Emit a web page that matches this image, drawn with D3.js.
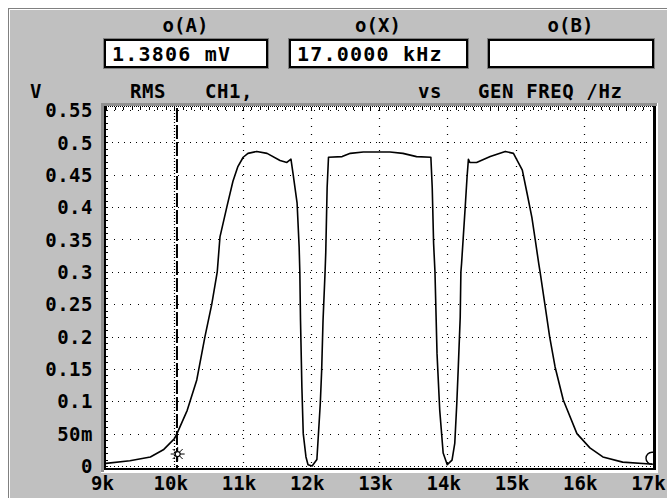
<!DOCTYPE html>
<html>
<head>
<meta charset="utf-8">
<script src="https://cdn.jsdelivr.net/npm/d3@7"></script>
<style>
  body { margin: 0; background: #fff; }
  svg { display: block; }
  text { font-family: "DejaVu Sans Mono", monospace; font-weight: bold; fill: #000; }
</style>
</head>
<body>
<div class="chart"></div>
<script>
const WIDTH = 667;
const HEIGHT = 498;

// sweep: generator frequency (kHz) vs RMS volts on CH1
const freqs = [9.0, 9.35, 9.65, 9.84, 10.0, 10.04, 10.19, 10.33, 10.45, 10.55, 10.63, 10.67, 10.77, 10.86, 10.93,
  11.01, 11.08, 11.21, 11.36, 11.55, 11.65, 11.71, 11.74, 11.80, 11.83, 11.84, 11.85, 11.87, 11.89, 11.93, 11.96,
  12.02, 12.09, 12.14, 12.16, 12.18, 12.21, 12.22, 12.24, 12.26, 12.46, 12.58, 12.77, 13.16, 13.35, 13.55, 13.76,
  13.78, 13.80, 13.82, 13.85, 13.89, 13.94, 14.0, 14.07, 14.11, 14.14, 14.16, 14.19, 14.20, 14.21, 14.26, 14.29,
  14.31, 14.33, 14.43, 14.63, 14.85, 14.97, 15.04, 15.10, 15.17, 15.24, 15.29, 15.34, 15.36, 15.43, 15.50, 15.58,
  15.70, 15.90, 16.09, 16.28, 16.57, 16.97, 17.0];
const volts = [0.004, 0.008, 0.014, 0.025, 0.042, 0.05, 0.086, 0.133, 0.2, 0.25, 0.30, 0.354, 0.40, 0.44, 0.462,
  0.477, 0.483, 0.486, 0.483, 0.472, 0.469, 0.474, 0.452, 0.406, 0.338, 0.30, 0.225, 0.122, 0.05, 0.014, 0.002,
  0.0, 0.01, 0.097, 0.148, 0.225, 0.30, 0.33, 0.43, 0.477, 0.478, 0.483, 0.485, 0.485, 0.483, 0.478, 0.477,
  0.43, 0.344, 0.30, 0.174, 0.086, 0.02, 0.002, 0.009, 0.035, 0.097, 0.148, 0.23, 0.30, 0.313, 0.395, 0.446,
  0.474, 0.469, 0.469, 0.478, 0.486, 0.483, 0.469, 0.457, 0.421, 0.384, 0.349, 0.313, 0.30, 0.25, 0.20, 0.153,
  0.102, 0.05, 0.028, 0.014, 0.006, 0.003, 0.003];

const xTicks = [9, 10, 11, 12, 13, 14, 15, 16, 17];
const xTickLabels = ['9k', '10k', '11k', '12k', '13k', '14k', '15k', '16k', '17k'];
const yTicks = [0, 0.05, 0.1, 0.15, 0.2, 0.25, 0.3, 0.35, 0.4, 0.45, 0.5, 0.55];
const yTickLabels = ['0', '50m', '0.1', '0.15', '0.2', '0.25', '0.3', '0.35', '0.4', '0.45', '0.5', '0.55'];

const readoutTitles = ['o(A)', 'o(X)', 'o(B)'];
const readoutValues = ['1.3806 mV', '17.0000 kHz', ''];

const cursorFreq = 10.04;
const markerA = [10.05, 0.0185];
const markerB = [17.0, 0.012];

var translate = function (x, y) {
  return 'translate(' + x + ',' + y + ')';
};

var xScale = d3.scaleLinear().domain([9, 17]).range([106, 652]);
var yScale = d3.scaleLinear().domain([0, 0.55]).range([466, 110]);

var svg = d3.select('.chart').append('svg')
  .attr('width', WIDTH)
  .attr('height', HEIGHT);

// panel with a sunken 3d edge
svg.append('rect').attr('x', 8.5).attr('y', 8.5).attr('width', WIDTH).attr('height', HEIGHT)
  .attr('fill', '#c0c0c0').attr('stroke', '#808080');
svg.append('path').attr('d', 'M9.5,' + HEIGHT + 'V9.5H' + WIDTH)
  .attr('fill', 'none').attr('stroke', '#fff');

// readout boxes
var boxes = [[103, 268], [288, 468], [487, 654]];
boxes.forEach(function (b, i) {
  svg.append('text').attr('x', (b[0] + b[1]) / 2).attr('y', 25)
    .attr('text-anchor', 'middle').attr('dominant-baseline', 'central')
    .style('font-size', '19px').text(readoutTitles[i]);
  svg.append('rect').attr('x', b[0] + 0.5).attr('y', 38.5).attr('width', b[1] - b[0]).attr('height', 30)
    .attr('fill', 'none').attr('stroke', '#808080');
  svg.append('rect').attr('x', b[0] + 2).attr('y', 40).attr('width', b[1] - b[0] - 3).attr('height', 27)
    .attr('fill', '#fff').attr('stroke', '#000').attr('stroke-width', 2);
  svg.append('text').attr('x', b[0] + 9).attr('y', 54)
    .attr('dominant-baseline', 'central')
    .style('font-size', '20px').style('letter-spacing', '1.2px').text(readoutValues[i]);
});

// caption row
var caption = [['V', 30], ['RMS', 130], ['CH1,', 205], ['vs', 418], ['GEN FREQ /Hz', 478]];
caption.forEach(function (c) {
  svg.append('text').attr('x', c[1]).attr('y', 91).attr('dominant-baseline', 'central')
    .style('font-size', '19px').style('letter-spacing', '0.6px').text(c[0]);
});

// plot frame
svg.append('rect').attr('x', 101).attr('y', 103).attr('width', 557).attr('height', 370).attr('fill', '#fff');
svg.append('path').attr('d', 'M102.5,472V104.5H657').attr('fill', 'none').attr('stroke', '#909090').attr('stroke-width', 3);
svg.append('rect').attr('x', 104).attr('y', 107).attr('width', 550).attr('height', 362).attr('fill', '#fff');

var plot = svg.append('g');

// grid
plot.selectAll('.hgrid').data(yTicks).enter().append('line')
  .attr('x1', 106).attr('x2', 652)
  .attr('y1', function (d) { return Math.round(yScale(d)) + 0.5; })
  .attr('y2', function (d) { return Math.round(yScale(d)) + 0.5; })
  .attr('stroke', '#000').attr('stroke-width', 1.2)
  .attr('stroke-dasharray', function (d, i) { return i === 0 ? '1,3' : (i % 2 === 0 ? '1,5' : '1,7'); });

plot.selectAll('.vgrid').data(xTicks.slice(1, -1)).enter().append('line')
  .attr('x1', function (d) { return Math.round(xScale(d)) + 0.5; })
  .attr('x2', function (d) { return Math.round(xScale(d)) + 0.5; })
  .attr('y1', 110).attr('y2', 466)
  .attr('stroke', '#000').attr('stroke-width', 1.2)
  .attr('stroke-dasharray', function (d) { return d === 10 ? '1,2' : '1,7'; });

// minor ticks along top and left edges
plot.selectAll('.tt').data(d3.range(9, 17, 0.125)).enter().append('line')
  .attr('x1', function (d) { return Math.round(xScale(d)) + 0.5; })
  .attr('x2', function (d) { return Math.round(xScale(d)) + 0.5; })
  .attr('y1', 107).attr('y2', 110).attr('stroke', '#000');
plot.selectAll('.lt').data(d3.range(0, 0.551, 0.01)).enter().append('line')
  .attr('y1', function (d) { return Math.round(yScale(d)) + 0.5; })
  .attr('y2', function (d) { return Math.round(yScale(d)) + 0.5; })
  .attr('x1', 106).attr('x2', 108).attr('stroke', '#000');

// frame edges
svg.append('line').attr('x1', 105).attr('x2', 105).attr('y1', 106).attr('y2', 470).attr('stroke', '#000').attr('stroke-width', 2);
svg.append('line').attr('x1', 104).attr('x2', 656).attr('y1', 106.5).attr('y2', 106.5).attr('stroke', '#000').attr('stroke-dasharray', '1,1');
svg.append('line').attr('x1', 654.5).attr('x2', 654.5).attr('y1', 106).attr('y2', 470).attr('stroke', '#000').attr('stroke-width', 3);
svg.append('line').attr('x1', 104).attr('x2', 656).attr('y1', 469).attr('y2', 469).attr('stroke', '#000').attr('stroke-width', 2);

// cursor
plot.append('line')
  .attr('x1', xScale(cursorFreq)).attr('x2', xScale(cursorFreq))
  .attr('y1', 108).attr('y2', 468)
  .attr('stroke', '#000').attr('stroke-width', 2).attr('stroke-dasharray', '14,3');

// trace
svg.append('clipPath').attr('id', 'clip').append('rect')
  .attr('x', 105).attr('y', 107).attr('width', 548).attr('height', 361);

var line = d3.line()
  .x(function (d, i) { return xScale(freqs[i]); })
  .y(function (d) { return yScale(d); });

plot.append('path')
  .attr('d', line(volts))
  .attr('fill', 'none').attr('stroke', '#000').attr('stroke-width', 1.6)
  .attr('stroke-linejoin', 'round');

// markers
var mA = plot.append('g').attr('transform', translate(xScale(markerA[0]), yScale(markerA[1])));
[[0, -7, 0, 7], [-7, 0, 7, 0], [-5, -5, 5, 5], [-5, 5, 5, -5]].forEach(function (s) {
  mA.append('line').attr('x1', s[0]).attr('y1', s[1]).attr('x2', s[2]).attr('y2', s[3])
    .attr('stroke', '#000').attr('stroke-width', 1);
});
mA.append('circle').attr('r', 2.5).attr('fill', '#fff').attr('stroke', '#000').attr('stroke-width', 1.2);

plot.append('circle')
  .attr('clip-path', 'url(#clip)')
  .attr('cx', xScale(markerB[0])).attr('cy', yScale(markerB[1])).attr('r', 6)
  .attr('fill', 'none').attr('stroke', '#000').attr('stroke-width', 1.4);

// axes labels
var yAxis = d3.axisLeft(yScale).tickValues(yTicks)
  .tickFormat(function (d, i) { return yTickLabels[i]; }).tickSize(0).tickPadding(0);
var gy = svg.append('g').attr('transform', translate(93, 0)).call(yAxis);
gy.select('.domain').remove();
gy.selectAll('text').attr('font-family', null).attr('font-size', null)
  .style('font-size', '19px').style('letter-spacing', '0.5px').attr('dy', '0.35em');

var xAxis = d3.axisBottom(xScale).tickValues(xTicks)
  .tickFormat(function (d, i) { return xTickLabels[i]; }).tickSize(0).tickPadding(0);
var gx = svg.append('g').attr('transform', translate(-4, 479)).call(xAxis);
gx.select('.domain').remove();
gx.selectAll('text').attr('font-family', null).attr('font-size', null)
  .style('font-size', '19px').attr('dy', '0.6em');
</script>
</body>
</html>
